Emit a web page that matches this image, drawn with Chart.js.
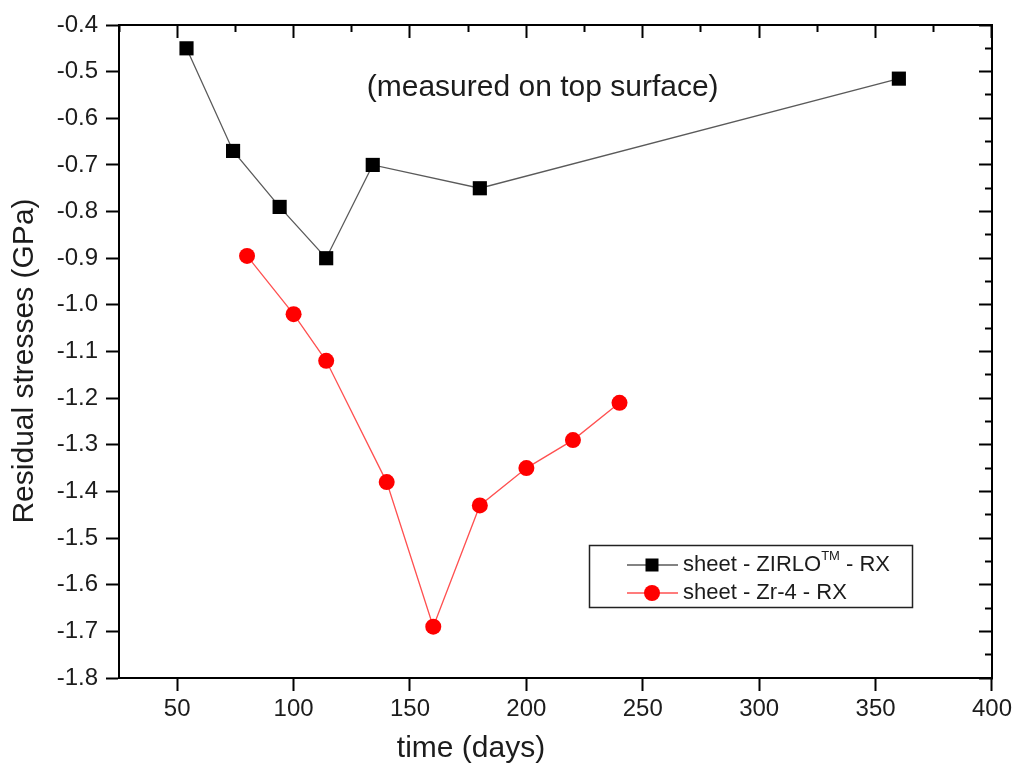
<!DOCTYPE html>
<html>
<head>
<meta charset="utf-8">
<title>Residual stresses vs time</title>
<script src="https://cdn.jsdelivr.net/npm/chart.js@4.4.1/dist/chart.umd.min.js"></script>
<style>
  html, body { margin: 0; padding: 0; background: #fff; }
  #wrap { width: 1016px; height: 767px; }
</style>
</head>
<body>
<div id="wrap"><canvas id="chart" width="1016" height="767"></canvas></div>
<script>
(function () {
  'use strict';

  // --- data ---
  const ZIRLO_DAYS = [54, 74, 94, 114, 134, 180, 360];
  const ZIRLO_GPA  = [-0.45, -0.67, -0.79, -0.90, -0.70, -0.75, -0.515];
  const ZR4_DAYS   = [80, 100, 114, 140, 160, 180, 200, 220, 240];
  const ZR4_GPA    = [-0.895, -1.02, -1.12, -1.38, -1.69, -1.43, -1.35, -1.29, -1.21];

  const SERIES_LABELS = ['sheet - ZIRLO', 'sheet - Zr-4 - RX'];

  // --- axes ---
  const X_MIN = 25, X_MAX = 400;
  const Y_MIN = -1.8, Y_MAX = -0.4;
  const X_MAJOR = [50, 100, 150, 200, 250, 300, 350, 400];
  const X_MINOR = [25, 75, 125, 175, 225, 275, 325, 375];
  const Y_MAJOR = [-1.8, -1.7, -1.6, -1.5, -1.4, -1.3, -1.2, -1.1, -1.0, -0.9, -0.8, -0.7, -0.6, -0.5, -0.4];
  const Y_MINOR = [-1.75, -1.65, -1.55, -1.45, -1.35, -1.25, -1.15, -1.05, -0.95, -0.85, -0.75, -0.65, -0.55, -0.45];

  const X_TITLE = 'time (days)';
  const Y_TITLE = 'Residual stresses (GPa)';
  const NOTE_TEXT = '(measured on top surface)';
  const NOTE_AT = [207, -0.535];

  const FONT = '"Liberation Sans", Arial, Helvetica, sans-serif';
  const INK = '#1c1c1c';

  function pairs(xs, ys) { return xs.map((x, i) => ({ x: x, y: ys[i] })); }

  // extra axis that only draws tick marks (minor ticks / inward ticks on top & right)
  function tickAxis(position, values, tickLength, showBorder) {
    const horiz = position === 'top' || position === 'bottom';
    return {
      type: 'linear', position: position,
      min: horiz ? X_MIN : Y_MIN, max: horiz ? X_MAX : Y_MAX,
      afterBuildTicks: s => { s.ticks = values.map(v => ({ value: v })); },
      afterFit: s => { if (horiz) s.height = 0; else s.width = 0; },
      grid: { drawOnChartArea: false, tickLength: tickLength, tickWidth: 2, tickColor: '#000' },
      border: { display: !!showBorder, color: '#000', width: 2 },
      ticks: { display: false },
    };
  }

  const decor = {
    id: 'decor',
    afterDraw(chart) {
      const ctx = chart.ctx;
      const xs = chart.scales.x, ys = chart.scales.y;
      ctx.save();
      ctx.fillStyle = INK;

      // note inside plot
      ctx.font = '30px ' + FONT;
      ctx.textAlign = 'center';
      ctx.textBaseline = 'middle';
      ctx.fillText(NOTE_TEXT, xs.getPixelForValue(NOTE_AT[0]), ys.getPixelForValue(NOTE_AT[1]));

      // axis titles
      ctx.textBaseline = 'alphabetic';
      ctx.fillText(X_TITLE, 471, 757);
      ctx.save();
      ctx.translate(33, 361);
      ctx.rotate(-Math.PI / 2);
      ctx.fillText(Y_TITLE, 0, 0);
      ctx.restore();

      // legend box
      ctx.strokeStyle = '#222';
      ctx.lineWidth = 1.5;
      ctx.strokeRect(589.5, 545.5, 323, 62);
      const rows = [565, 593];
      const ds = chart.data.datasets;
      rows.forEach((y, i) => {
        const d = ds[i];
        ctx.strokeStyle = d.borderColor;
        ctx.lineWidth = 1.3;
        ctx.beginPath(); ctx.moveTo(627, y); ctx.lineTo(678, y); ctx.stroke();
        ctx.fillStyle = d.pointBackgroundColor;
        if (d.pointStyle === 'rect') {
          ctx.fillRect(645.5, y - 6.5, 13, 13);
        } else {
          ctx.beginPath(); ctx.arc(652, y, 8, 0, Math.PI * 2); ctx.fill();
        }
      });
      ctx.fillStyle = INK;
      ctx.textAlign = 'left';
      ctx.textBaseline = 'middle';
      ctx.font = '22px ' + FONT;
      let tx = 683;
      ctx.fillText(SERIES_LABELS[0], tx, rows[0]);
      tx += ctx.measureText(SERIES_LABELS[0]).width;
      ctx.font = '13px ' + FONT;
      ctx.fillText('TM', tx, rows[0] - 9);
      tx += ctx.measureText('TM').width;
      ctx.font = '22px ' + FONT;
      ctx.fillText(' - RX', tx, rows[0]);
      ctx.fillText(SERIES_LABELS[1], 683, rows[1]);

      ctx.restore();
    }
  };

  new Chart(document.getElementById('chart'), {
    type: 'scatter',
    data: {
      datasets: [{
        label: 'sheet - ZIRLO\u2122 - RX',
        data: pairs(ZIRLO_DAYS, ZIRLO_GPA),
        showLine: true,
        borderColor: '#5a5a5a', borderWidth: 1.3,
        pointStyle: 'rect', pointRadius: 10, pointBorderWidth: 0,
        pointBackgroundColor: '#000',
      }, {
        label: 'sheet - Zr-4 - RX',
        data: pairs(ZR4_DAYS, ZR4_GPA),
        showLine: true,
        borderColor: '#ff5050', borderWidth: 1.3,
        pointStyle: 'circle', pointRadius: 8, pointBorderWidth: 0,
        pointBackgroundColor: '#ff0000',
      }],
    },
    options: {
      responsive: false,
      animation: false,
      layout: { padding: { top: 25, right: 23, bottom: 0, left: 0 } },
      plugins: { legend: { display: false }, tooltip: { enabled: false } },
      scales: {
        x: {
          type: 'linear', position: 'bottom', min: X_MIN, max: X_MAX,
          afterBuildTicks: s => { s.ticks = X_MAJOR.map(v => ({ value: v })); },
          afterFit: s => { s.height = 89; },
          grid: { drawOnChartArea: false, tickLength: 13, tickWidth: 2, tickColor: '#000' },
          border: { display: true, color: '#000', width: 2 },
          ticks: { autoSkip: false, maxRotation: 0, padding: 4, color: INK,
                   font: { family: FONT, size: 24 }, callback: v => String(v) },
        },
        y: {
          type: 'linear', position: 'left', min: Y_MIN, max: Y_MAX,
          afterBuildTicks: s => { s.ticks = Y_MAJOR.map(v => ({ value: v })); },
          afterFit: s => { s.width = 119; },
          grid: { drawOnChartArea: false, tickLength: 13, tickWidth: 2, tickColor: '#000' },
          border: { display: true, color: '#000', width: 2 },
          ticks: { autoSkip: false, padding: 8, color: INK,
                   font: { family: FONT, size: 24 }, callback: v => v.toFixed(1) },
        },
        xMinor: tickAxis('bottom', X_MINOR, 7, false),
        yMinor: tickAxis('left', Y_MINOR, 7, false),
        xTop: tickAxis('top', X_MAJOR, -13, true),
        xTopMinor: tickAxis('top', X_MINOR, -7, false),
        yRight: tickAxis('right', Y_MAJOR, -13, true),
        yRightMinor: tickAxis('right', Y_MINOR, -7, false),
      },
    },
    plugins: [decor],
  });
})();
</script>
</body>
</html>
